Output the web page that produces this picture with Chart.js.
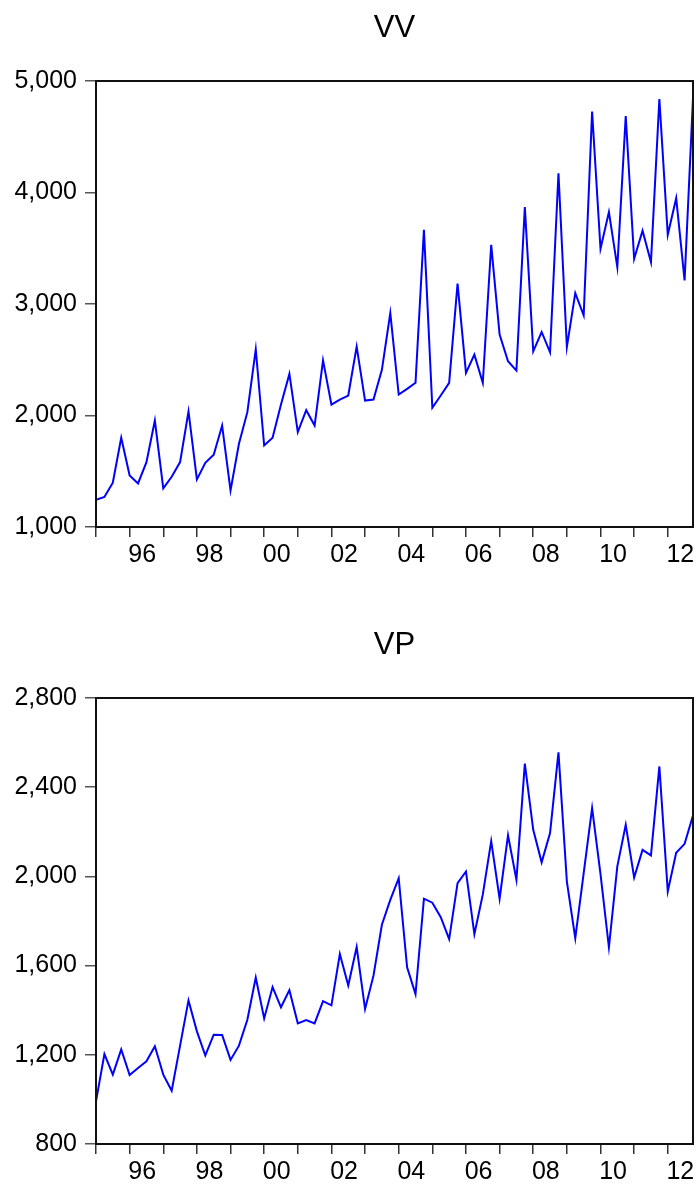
<!DOCTYPE html>
<html>
<head>
<meta charset="utf-8">
<script src="https://cdn.jsdelivr.net/npm/chart.js@4.4.1/dist/chart.umd.min.js"></script>
<style>
    body { margin: 0; background: #fff; width: 699px; height: 1186px; position: relative; overflow: hidden; }
    .panel { position: absolute; left: 0; width: 699px; height: 569px; }
</style>
</head>
<body>
<div class="panel" style="top: 0px;"><canvas id="vvChart"></canvas></div>
<div class="panel" style="top: 617px;"><canvas id="vpChart"></canvas></div>

<script>
// quarterly series, 1995Q1 .. 2012Q4
const startYear = 1995;
const quarters = [];
for (let y = 1995; y <= 2012; y++) {
    for (let q = 1; q <= 4; q++) quarters.push(y + 'Q' + q);
}

const vvValues = [
    1245, 1269, 1397, 1800, 1463, 1391, 1582, 1955,
    1346, 1451, 1582, 2036, 1427, 1576, 1648, 1910,
    1328, 1746, 2030, 2594, 1731, 1800, 2098, 2373,
    1851, 2048, 1910, 2495, 2098, 2143, 2179, 2618,
    2134, 2143, 2409, 2919, 2188, 2239, 2293, 3666,
    2069, 2179, 2293, 3182, 2382, 2546, 2293, 3531,
    2725, 2487, 2403, 3869, 2576, 2749, 2567, 4173,
    2615, 3098, 2898, 4725, 3495, 3824, 3331, 4686,
    3406, 3657, 3376, 4839, 3621, 3949, 3212, 4845
];

const vpValues = [
    991, 1203, 1111, 1224, 1109, 1141, 1171, 1238,
    1111, 1039, 1241, 1444, 1305, 1197, 1290, 1289,
    1177, 1241, 1357, 1546, 1363, 1504, 1413, 1490,
    1341, 1356, 1341, 1441, 1422, 1652, 1511, 1683,
    1405, 1555, 1783, 1895, 1992, 1592, 1472, 1900,
    1882, 1817, 1719, 1970, 2022, 1741, 1918, 2158,
    1900, 2184, 1985, 2506, 2209, 2063, 2194, 2556,
    1977, 1723, 2015, 2306, 2010, 1682, 2045, 2231,
    1995, 2119, 2094, 2493, 1933, 2106, 2146, 2273
];

const vvTicks = [1000, 2000, 3000, 4000, 5000];
const vpTicks = [800, 1200, 1600, 2000, 2400, 2800];

const fontFamily = '"Liberation Sans", Arial, sans-serif';

// closes the plot frame and puts the series name centred above the plot
const panelFrame = {
    id: 'panelFrame',
    afterDraw(chart, args, opts) {
        const a = chart.chartArea;
        const ctx = chart.ctx;
        ctx.save();
        ctx.strokeStyle = '#111';
        ctx.lineWidth = 2;
        ctx.strokeRect(a.left, a.top, a.right - a.left, a.bottom - a.top);

        ctx.fillStyle = '#000';
        ctx.font = '31px ' + fontFamily;
        ctx.textAlign = 'center';
        ctx.textBaseline = 'middle';
        ctx.fillText(opts.text, (a.left + a.right) / 2, 28);
        ctx.restore();
    }
};

function makePanel(canvasId, title, values, yTicks) {
    const ctx = document.getElementById(canvasId);
    const points = values.map((v, i) => ({ x: i, y: v }));

    return new Chart(ctx, {
        type: 'line',
        data: {
            datasets: [{
                label: title,
                data: points,
                borderColor: '#0000ff',
                borderWidth: 2,
                pointRadius: 0,
                tension: 0,
                fill: false
            }]
        },
        options: {
            responsive: true,
            maintainAspectRatio: false,
            animation: false,
            layout: { padding: { left: 0, right: 6, top: 81, bottom: 0 } },
            plugins: {
                legend: { display: false },
                tooltip: { enabled: false },
                title: { display: false },
                panelFrame: { text: title }
            },
            scales: {
                x: {
                    type: 'linear',
                    min: 0,
                    max: values.length - 1,
                    afterBuildTicks: (scale) => {
                        // one tick at the start of each year
                        const t = [];
                        for (let i = 0; i < values.length; i += 4) t.push({ value: i });
                        scale.ticks = t;
                    },
                    afterFit: (scale) => { scale.height = 42; },
                    grid: {
                        drawOnChartArea: false,
                        drawTicks: true,
                        tickLength: 10,
                        tickColor: '#333',
                        lineWidth: 1.5
                    },
                    border: { display: true, color: '#111', width: 2 },
                    ticks: {
                        autoSkip: false,
                        maxRotation: 0,
                        padding: 3,
                        labelOffset: 12.6,
                        color: '#000',
                        font: { family: fontFamily, size: 25 },
                        callback: (value) => {
                            const year = startYear + value / 4;
                            if (year % 2 !== 0) return '';
                            return String(year % 100).padStart(2, '0');
                        }
                    }
                },
                y: {
                    min: yTicks[0],
                    max: yTicks[yTicks.length - 1],
                    afterBuildTicks: (scale) => {
                        scale.ticks = yTicks.map(v => ({ value: v }));
                    },
                    afterFit: (scale) => { scale.width = 96; },
                    grid: {
                        drawOnChartArea: false,
                        drawTicks: true,
                        tickLength: 11,
                        tickColor: '#555',
                        lineWidth: 1.5
                    },
                    border: { display: true, color: '#111', width: 2 },
                    ticks: {
                        padding: 8,
                        color: '#000',
                        font: { family: fontFamily, size: 25 },
                        callback: (value) => value.toLocaleString('en-US')
                    }
                }
            }
        },
        plugins: [panelFrame]
    });
}

makePanel('vvChart', 'VV', vvValues, vvTicks);
makePanel('vpChart', 'VP', vpValues, vpTicks);
</script>
</body>
</html>
